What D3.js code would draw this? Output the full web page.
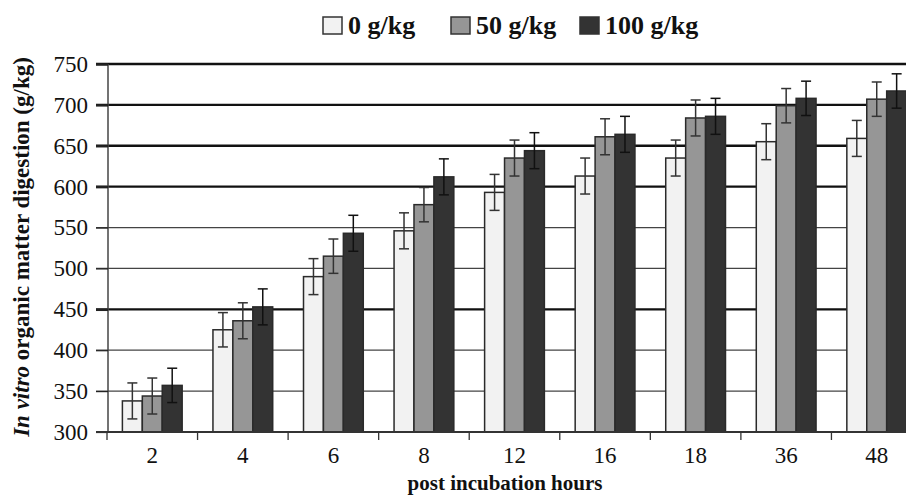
<!DOCTYPE html>
<html>
<head>
<meta charset="utf-8">
<script src="https://cdn.jsdelivr.net/npm/d3@7"></script>
<style>
  body { margin: 0; background: #fff; }
  svg { display: block; }
  text { font-family: "Liberation Serif", "DejaVu Serif", serif; }
</style>
</head>
<body>
<svg width="906" height="496"></svg>
<script>
// Datos
const hours = ["2", "4", "6", "8", "12", "16", "18", "36", "48"];
const series = ["0 g/kg", "50 g/kg", "100 g/kg"];
const dose0 = [338, 425, 490, 546, 593, 613, 635, 655, 659];
const dose50 = [344, 436, 515, 578, 635, 661, 684, 699, 707];
const dose100 = [357, 453, 543, 612, 644, 664, 686, 708, 717];
const err0 = [22, 21, 22, 22, 22, 22, 22, 22, 22];
const err50 = [22, 22, 21, 21, 22, 22, 22, 21, 21];
const err100 = [21, 22, 22, 22, 22, 22, 22, 21, 21];
const yTicks = [300, 350, 400, 450, 500, 550, 600, 650, 700, 750];
const boldGrid = [450, 600, 650, 700, 750];

const colors = ["#f2f2f2", "#969696", "#333333"];
const values = [dose0, dose50, dose100];
const errors = [err0, err50, err100];

const rows = hours.map((h, i) => ({
  hour: h,
  bars: series.map((s, j) => ({ key: s, idx: j, value: values[j][i], err: errors[j][i] }))
}));

const svg = d3.select("svg");
const mLeft = 108, mRight = 922, mTop = 64, mBottom = 432;

const x = d3.scaleBand().domain(hours).range([mLeft - 1, mRight]).padding(0);
const groupW = x.bandwidth() * 0.66;
const x1 = d3.scaleBand().domain(series).range([0, groupW]).padding(0);
const y = d3.scaleLinear().domain([300, 750]).range([mBottom, mTop]);

// lineas de la rejilla
svg.append("g")
  .selectAll("line")
  .data(yTicks.filter(t => t > 300))
  .enter().append("line")
  .attr("x1", mLeft - 12)
  .attr("x2", 906)
  .attr("y1", d => y(d))
  .attr("y2", d => y(d))
  .attr("stroke", d => boldGrid.includes(d) ? "#111" : "#444")
  .attr("stroke-width", d => boldGrid.includes(d) ? 2.4 : 1.2);

// barras
const group = svg.append("g")
  .selectAll("g")
  .data(rows)
  .enter().append("g")
  .attr("transform", d => `translate(${x(d.hour) + (x.bandwidth() - groupW) / 2},0)`);

group.selectAll("rect")
  .data(d => d.bars)
  .enter().append("rect")
  .attr("x", d => x1(d.key))
  .attr("y", d => y(d.value))
  .attr("width", x1.bandwidth())
  .attr("height", d => mBottom - y(d.value))
  .attr("fill", d => colors[d.idx])
  .attr("stroke", "#2a2a2a")
  .attr("stroke-width", 1.5);

// barras de error
const eb = group.selectAll(".err")
  .data(d => d.bars)
  .enter().append("g")
  .attr("class", "err")
  .attr("stroke", d => d.idx === 2 ? "#111" : "#333")
  .attr("stroke-width", 1.5);

eb.append("line")
  .attr("x1", d => x1(d.key) + x1.bandwidth() / 2)
  .attr("x2", d => x1(d.key) + x1.bandwidth() / 2)
  .attr("y1", d => y(d.value + d.err))
  .attr("y2", d => y(d.value - d.err));

[1, -1].forEach(s => {
  eb.append("line")
    .attr("x1", d => x1(d.key) + x1.bandwidth() / 2 - 5)
    .attr("x2", d => x1(d.key) + x1.bandwidth() / 2 + 5)
    .attr("y1", d => y(d.value + s * d.err))
    .attr("y2", d => y(d.value + s * d.err));
});

// eje Y
const yAxis = svg.append("g")
  .attr("transform", `translate(${mLeft},0)`)
  .call(d3.axisLeft(y).tickValues(yTicks).tickSize(12).tickPadding(8));
yAxis.select(".domain").attr("stroke", "#444").attr("stroke-width", 1.5).attr("d", `M0,${mTop}V${mBottom}`);
yAxis.selectAll(".tick line").attr("stroke", "#222").attr("stroke-width", d => boldGrid.includes(d) ? 2.4 : 1.2);
yAxis.selectAll("text")
  .attr("font-family", "Liberation Serif")
  .attr("font-size", 23)
  .attr("fill", "#111");

// eje X
svg.append("line")
  .attr("x1", mLeft - 12).attr("x2", 906)
  .attr("y1", mBottom).attr("y2", mBottom)
  .attr("stroke", "#333").attr("stroke-width", 1.8);

svg.append("g")
  .selectAll("line")
  .data(hours)
  .enter().append("line")
  .attr("x1", d => x(d))
  .attr("x2", d => x(d))
  .attr("y1", mBottom)
  .attr("y2", mBottom + 8)
  .attr("stroke", "#333")
  .attr("stroke-width", 1.3);

svg.append("g")
  .selectAll("text")
  .data(hours)
  .enter().append("text")
  .attr("x", d => x(d) + x.bandwidth() / 2)
  .attr("y", 463)
  .attr("text-anchor", "middle")
  .attr("font-family", "Liberation Serif")
  .attr("font-size", 23)
  .attr("fill", "#111")
  .text(d => d);

svg.append("text")
  .attr("x", 505)
  .attr("y", 490)
  .attr("text-anchor", "middle")
  .attr("font-family", "Liberation Serif")
  .attr("font-size", 21)
  .attr("font-weight", "bold")
  .attr("fill", "#111")
  .text("post incubation hours");

// titulo eje Y
const yt = svg.append("text")
  .attr("transform", "translate(29,247) rotate(-90)")
  .attr("text-anchor", "middle")
  .attr("font-family", "Liberation Serif")
  .attr("font-size", 23)
  .attr("font-weight", "bold")
  .attr("fill", "#111");
yt.append("tspan").attr("font-style", "italic").text("In vitro");
yt.append("tspan").text(" organic matter digestion (g/kg)");

// leyenda
const legendX = [323, 451, 580];
const legend = svg.append("g")
  .selectAll("g")
  .data(series)
  .enter().append("g")
  .attr("transform", (d, i) => `translate(${legendX[i]},17)`);

legend.append("rect")
  .attr("width", 19)
  .attr("height", 17)
  .attr("fill", (d, i) => colors[i])
  .attr("stroke", "#333")
  .attr("stroke-width", 1.5);

legend.append("text")
  .attr("x", 25)
  .attr("y", 17)
  .attr("font-family", "Liberation Serif")
  .attr("font-size", 26)
  .attr("font-weight", "bold")
  .attr("fill", "#111")
  .text(d => d);
</script>
</body>
</html>
